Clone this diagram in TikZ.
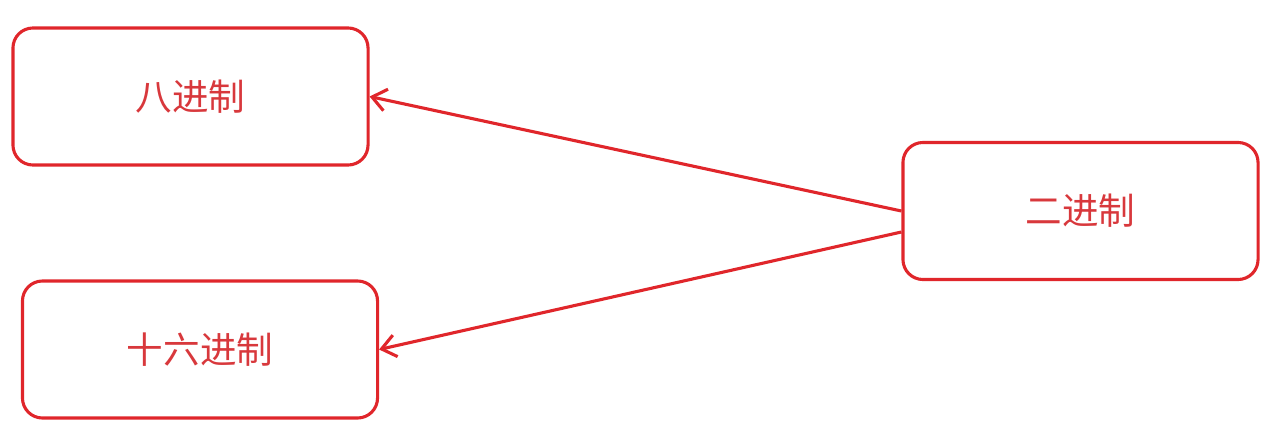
\documentclass[tikz,border=0pt]{standalone}
\usepackage{fontspec}
\newfontfamily\cjk{Noto Sans CJK SC}
\usetikzlibrary{arrows.meta,calc}
\definecolor{boxred}{HTML}{E0262B}
\definecolor{textred}{HTML}{D8383C}
\tikzset{
  base/.style={draw=boxred, line width=2.2pt, rounded corners=0.5cm,
    minimum width=8.875cm, minimum height=3.425cm,
    text=textred, font=\cjk\fontsize{26}{30}\selectfont},
  conv/.style={draw=boxred, line width=2.2pt,
    -{Straight Barb[length=0.35cm,width=0.55cm,line width=2.2pt]}}
}
\begin{document}
\begin{tikzpicture}[x=0.025cm,y=-0.025cm]

	\useasboundingbox (0,0) rectangle (1280,427);

	\node[base] (oct) at (190.5,96.5) {八进制};
	\node[base] (hex) at (200,349.5) {十六进制};
	\node[base] (bin) at (1080.5,211) {二进制};

	\draw[conv] (bin.west) -- (oct.east);
	\draw[conv] ($(bin.west)+(0,21)$) -- (hex.east);
      \end{tikzpicture}
\end{document}
